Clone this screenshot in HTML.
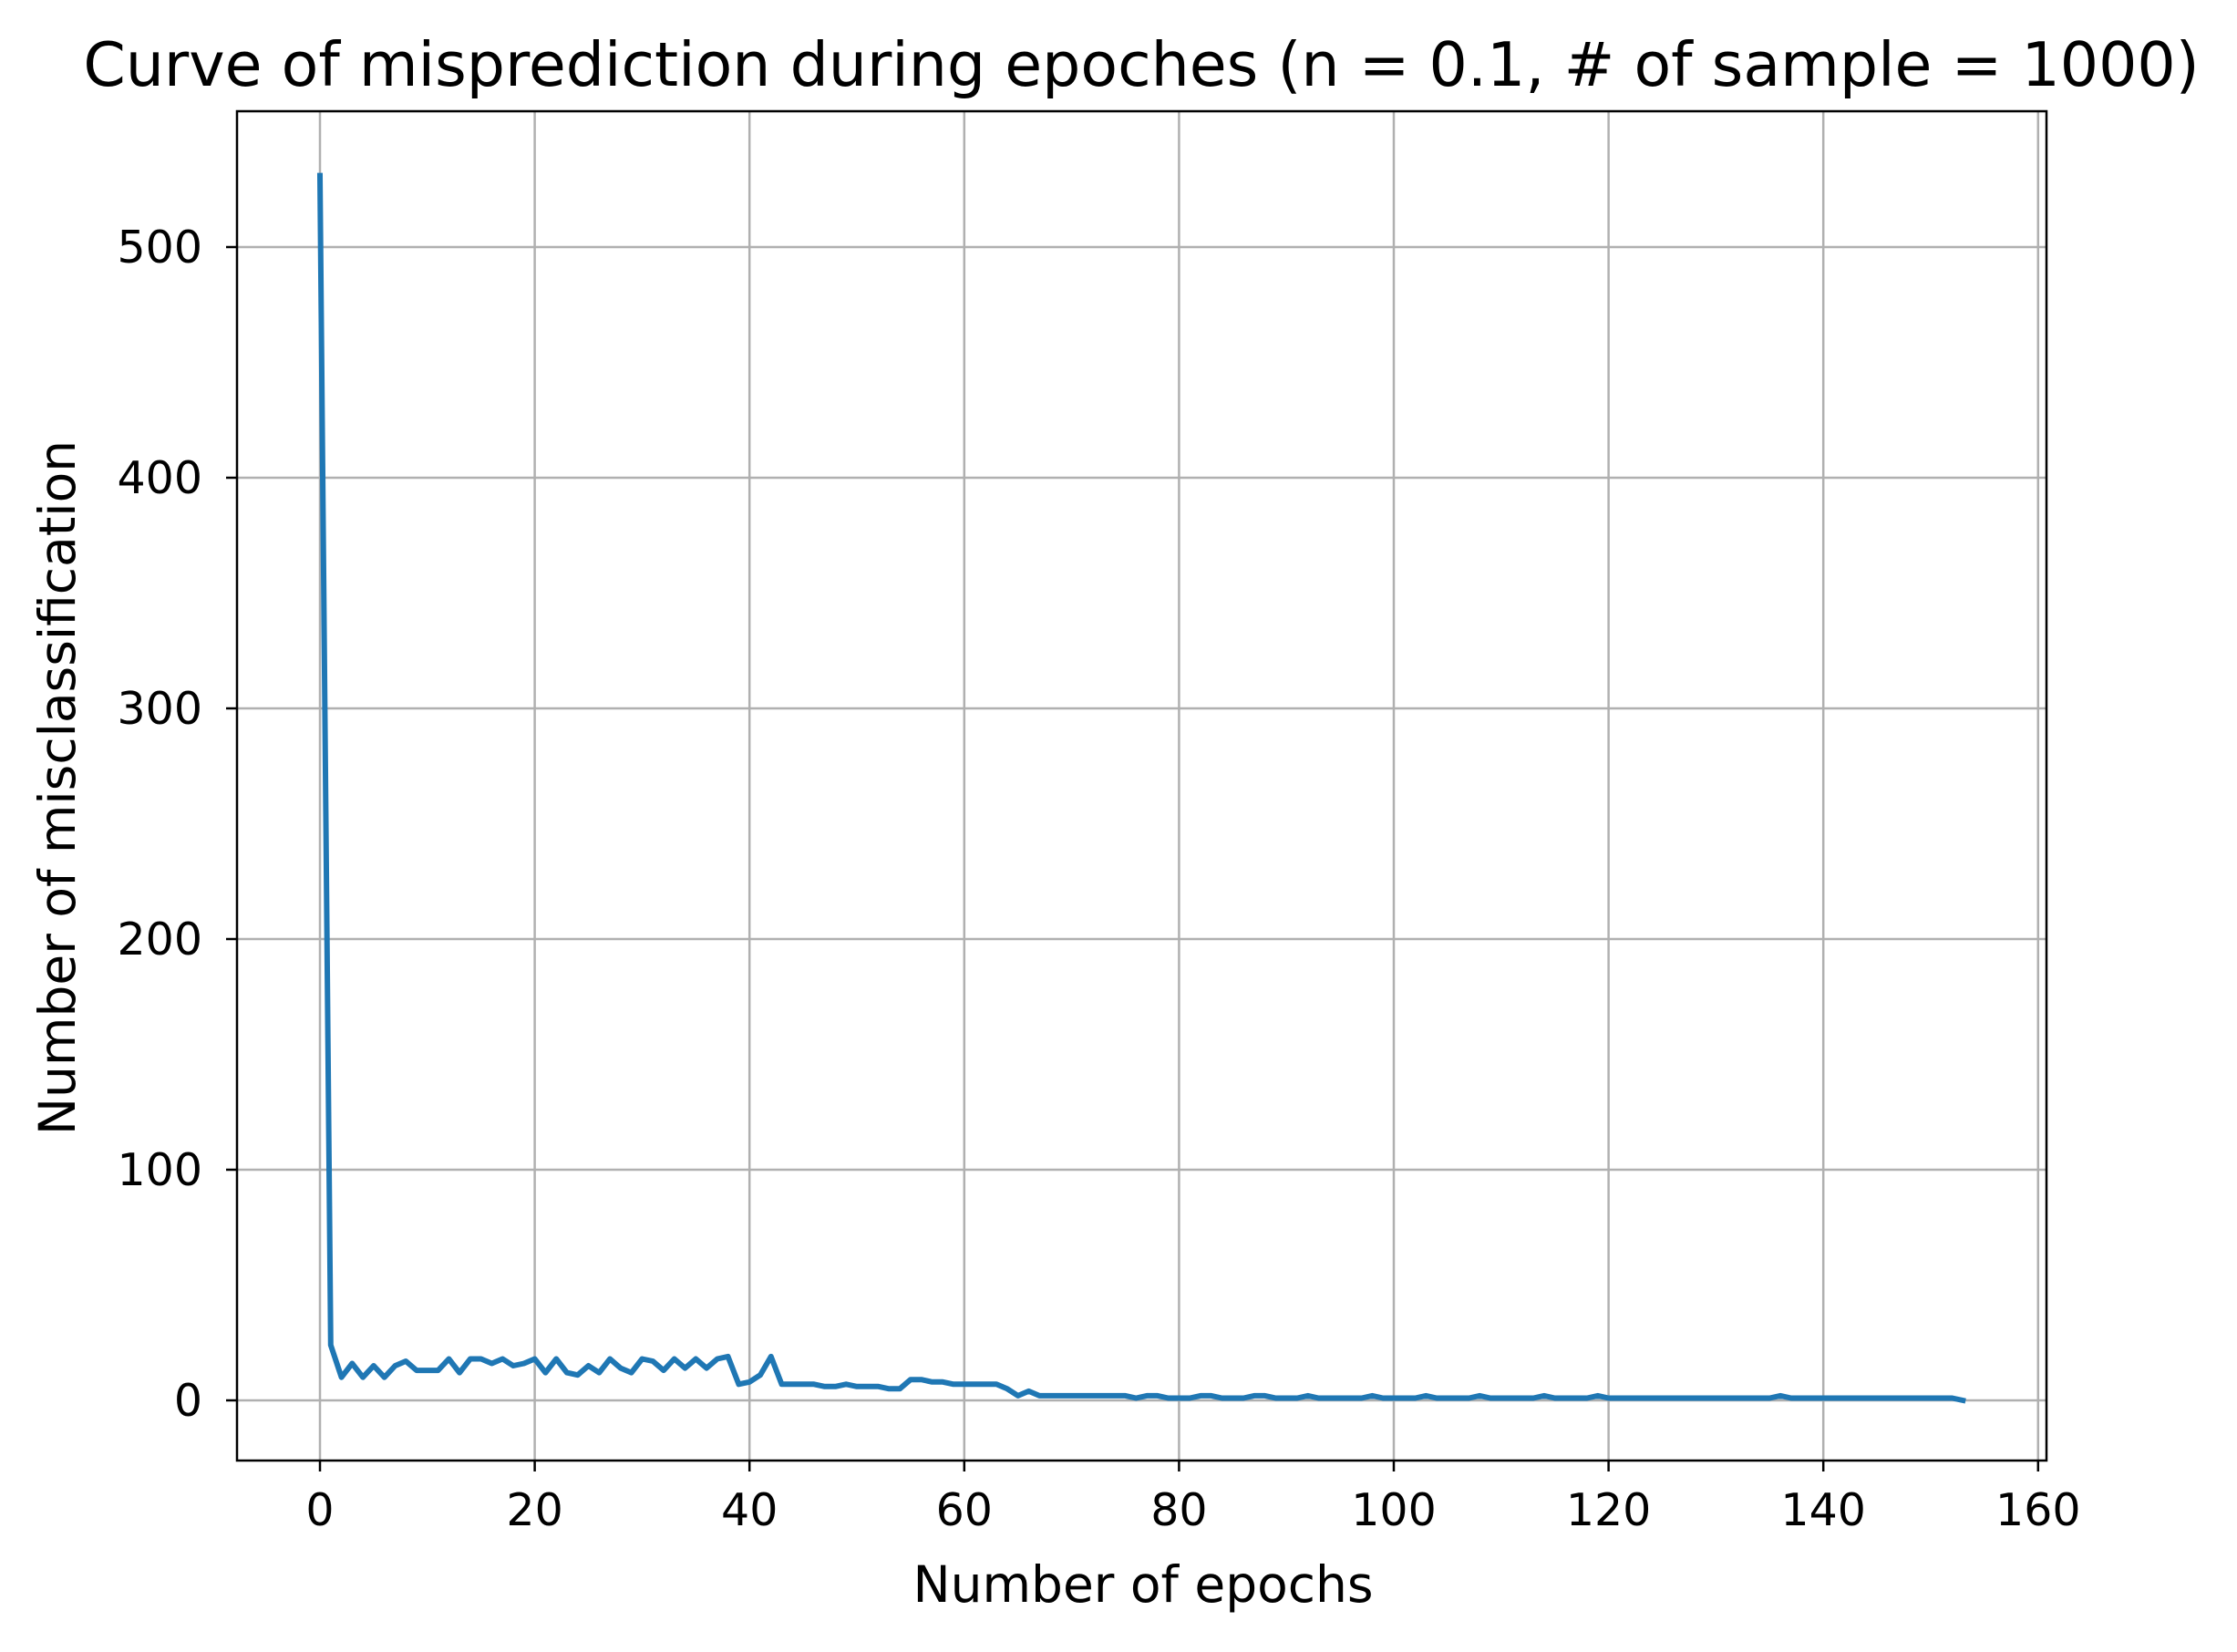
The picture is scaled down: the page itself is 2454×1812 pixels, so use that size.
<!DOCTYPE html>
<html><head><meta charset="utf-8"><style>
html,body{margin:0;padding:0;background:#fff;}
svg{display:block;font-family:"DejaVu Sans","Liberation Sans",sans-serif;}
</style></head><body>
<svg id="chart" width="2454" height="1812" viewBox="0 0 2454 1812" xmlns="http://www.w3.org/2000/svg">
<rect width="2454" height="1812" fill="#fff"/>
<g id="grid"></g>
<g id="ticks"></g>
<path id="line" fill="none" stroke="#1f77b4" stroke-width="6" stroke-linejoin="round" stroke-linecap="square"/>
<rect x="260" y="122" width="1985" height="1480" fill="none" stroke="#000" stroke-width="2.5"/>
<text x="1252" y="94" font-size="66.5" text-anchor="middle">Curve of misprediction during epoches (n = 0.1, # of sample = 1000)</text>
<text x="1254" y="1757" font-size="55" text-anchor="middle">Number of epochs</text>
<text x="0" y="0" font-size="55" text-anchor="middle" transform="translate(82 864) rotate(-90)">Number of misclassification</text>
</svg>
<script>
const xTicks=[0,20,40,60,80,100,120,140,160];
const yTicks=[0,100,200,300,400,500];
const epochs=[];
const misclass=[531,24,10,16,10,15,10,15,17,13,13,13,18,12,18,18,16,18,15,16,18,12,18,12,11,15,12,18,14,12,18,17,13,18,14,18,14,18,19,7,8,11,19,7,7,7,7,6,6,7,6,6,6,5,5,9,9,8,8,7,7,7,7,7,5,2,4,2,2,2,2,2,2,2,2,2,1,2,2,1,1,1,2,2,1,1,1,2,2,1,1,1,2,1,1,1,1,1,2,1,1,1,1,2,1,1,1,1,2,1,1,1,1,1,2,1,1,1,1,2,1,1,1,1,1,1,1,1,1,1,1,1,1,1,1,1,2,1,1,1,1,1,1,1,1,1,1,1,1,1,1,1,1,0];
for(let i=0;i<misclass.length;i++) epochs.push(i);
const X=v=>351+v*11.78;
const Y=v=>1536-v*2.53;
const NS="http://www.w3.org/2000/svg";
const grid=document.getElementById('grid'), ticks=document.getElementById('ticks');
function mk(tag,attrs,parent){const e=document.createElementNS(NS,tag);for(const k in attrs)e.setAttribute(k,attrs[k]);parent.appendChild(e);return e;}
xTicks.forEach(t=>{
 const gl=mk('line',{x1:X(t),x2:X(t),y1:122,y2:1602,stroke:'#b0b0b0','stroke-width':2.5},grid);
 
 
 const tk=mk('line',{x1:X(t),x2:X(t),y1:1602,y2:1614,stroke:'#000','stroke-width':2.5},ticks);
 
 
 const tx=mk('text',{x:X(t),y:1673,'font-size':49,'text-anchor':'middle'},ticks);
 tx.textContent=t;
 
 
});
yTicks.forEach(t=>{
 const gl=mk('line',{x1:260,x2:2245,y1:Y(t),y2:Y(t),stroke:'#b0b0b0','stroke-width':2.5},grid);
 
 
 const tk=mk('line',{x1:248,x2:260,y1:Y(t),y2:Y(t),stroke:'#000','stroke-width':2.5},ticks);
 
 
 const tx=mk('text',{x:222,y:Y(t)+17,'font-size':49,'text-anchor':'end'},ticks);
 tx.textContent=t;
 
 
});
document.getElementById('line').setAttribute('d',misclass.map((v,i)=>(i?'L':'M')+X(epochs[i]).toFixed(1)+' '+Y(v).toFixed(1)).join(' '));
</script>
</body></html>
